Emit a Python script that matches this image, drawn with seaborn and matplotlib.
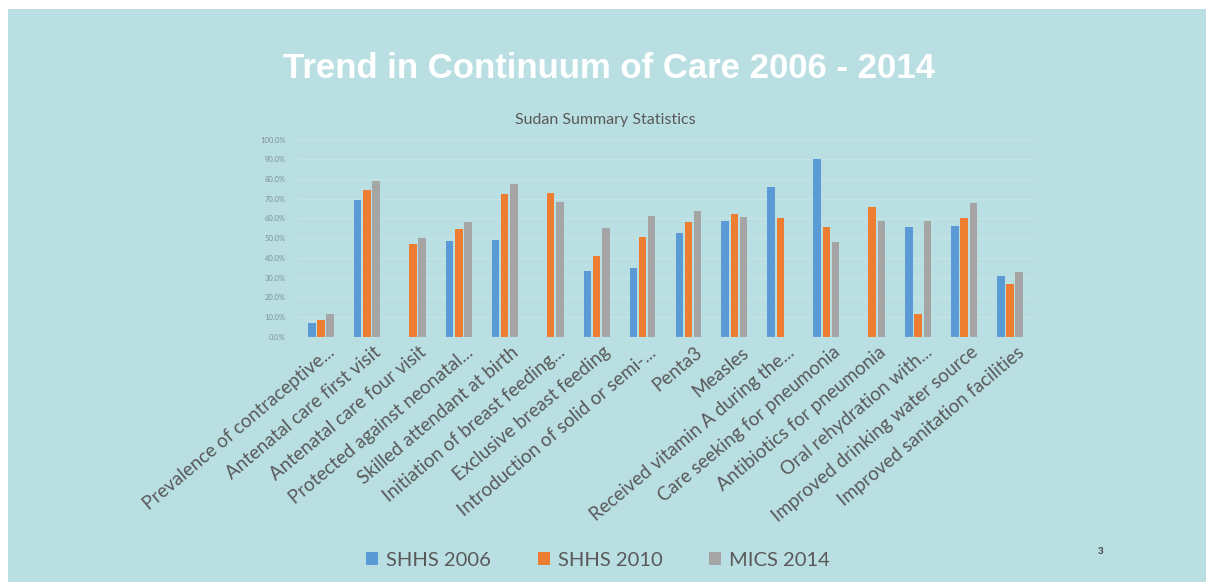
import numpy as np
import pandas as pd
import seaborn as sns
import matplotlib.pyplot as plt
import matplotlib.transforms as mtransforms
from matplotlib.patches import Rectangle

# indicators (x axis)
categories = ['Prevalence of contraceptive...', 'Antenatal care first visit',
              'Antenatal care four visit', 'Protected against neonatal...',
              'Skilled attendant at birth', 'Initiation of breast feeding...',
              'Exclusive breast feeding', 'Introduction of solid or semi-...',
              'Penta3', 'Measles', 'Received vitamin A during the...',
              'Care seeking for pneumonia', 'Antibiotics for pneumonia',
              'Oral rehydration with...', 'Improved drinking water source',
              'Improved sanitation facilities']

series = ['SHHS 2006', 'SHHS 2010', 'MICS 2014']

# percent values, None = not reported
shhs_2006 = [7.1, 69.5, None, 48.6, 49.2, None, 33.5, 34.9, 52.8, 58.9, 76.1, 90.0, None, 55.5, 56.2, 31.0]
shhs_2010 = [8.6, 74.3, 47.0, 54.5, 72.6, 72.8, 40.9, 50.8, 58.0, 62.3, 60.2, 55.5, 66.0, 11.3, 60.2, 26.9]
mics_2014 = [11.7, 79.2, 50.3, 58.0, 77.5, 68.4, 55.2, 61.1, 63.8, 60.6, None, 48.2, 58.9, 58.9, 67.9, 32.7]

colors = ['#5b9bd5', '#ed7d31', '#a5a5a5']
bg = '#b9dfe3'
txt = '#595959'

df = pd.DataFrame({'indicator': categories, series[0]: shhs_2006,
                   series[1]: shhs_2010, series[2]: mics_2014})
df = df.melt(id_vars='indicator', var_name='survey', value_name='value').dropna()

sns.set_style('white')
plt.rcParams['font.family'] = ['Lato', 'DejaVu Sans']

fig = plt.figure(figsize=(12.06, 5.82), dpi=100)
fig.patch.set_facecolor('white')
fig.add_artist(Rectangle((8 / 1206, 0), 1 - 8 / 1206, 1 - 9 / 582,
                         transform=fig.transFigure, facecolor=bg,
                         edgecolor='none', zorder=-10))

ax = fig.add_axes([298 / 1206, 0.4215, 735 / 1206, 0.3386])
ax.set_facecolor('none')

sns.barplot(data=df, x='indicator', y='value', hue='survey', order=categories,
            hue_order=series, palette=colors, width=0.6, gap=0.18,
            saturation=1, linewidth=0, ax=ax, legend=True)

ax.set_ylim(0, 100)
ax.set_yticks(np.arange(0, 101, 10))
ax.set_yticklabels([f'{v:.1f}%' for v in np.arange(0, 101, 10)],
                   fontsize=5.5, color='#7f9193')
ax.grid(axis='y', color='#c6e5e8', lw=0.7)
ax.set_axisbelow(True)
ax.axhline(0, color='#c9d3d4', lw=0.8)
for s in ax.spines.values():
    s.set_visible(False)
ax.tick_params(axis='both', length=0)
ax.tick_params(axis='y', pad=9)
ax.set_xlim(-0.5, len(categories) - 0.5)
ax.set_xticks(range(len(categories)))
ax.set_xticklabels(categories, rotation=40, ha='right', va='top',
                   rotation_mode='anchor', fontsize=13.5, color=txt)
ax.tick_params(axis='x', pad=5)
# nudge labels a little to the right, like the original
shift = mtransforms.ScaledTranslation(6 / 100, 0, fig.dpi_scale_trans)
for lab in ax.get_xticklabels():
    lab.set_transform(lab.get_transform() + shift)
ax.set_xlabel('')
ax.set_ylabel('')

handles, labels = ax.get_legend_handles_labels()
ax.get_legend().remove()
fig.legend(handles, labels, loc='center', bbox_to_anchor=(598 / 1206, 1 - 560 / 582),
           ncol=3, frameon=False, fontsize=14.5, labelcolor=txt,
           handlelength=0.6, handleheight=0.6, handletextpad=0.4, columnspacing=2.3)

fig.text(609 / 1206, 1 - 68 / 582, 'Trend in Continuum of Care 2006 - 2014',
         ha='center', va='center', color='white', fontsize=25,
         fontweight='bold', family='Liberation Sans')
fig.text(605 / 1206, 1 - 120 / 582, 'Sudan Summary Statistics',
         ha='center', va='center', color=txt, fontsize=11.5)
fig.text(1100 / 1206, 1 - 551 / 582, '3', ha='center', va='center',
         color='#404040', fontsize=7, fontweight='bold')

fig.savefig('out.png', dpi=100, facecolor=fig.get_facecolor())
